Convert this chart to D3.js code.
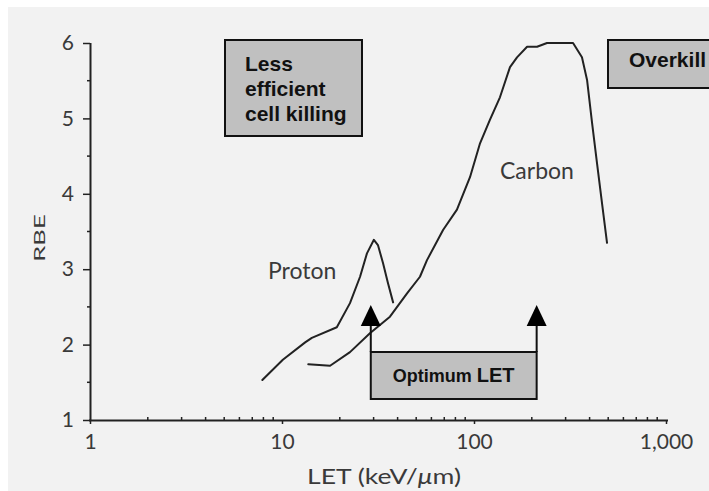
<!DOCTYPE html>
<html>
<head>
<meta charset="utf-8">
<script src="https://cdn.jsdelivr.net/npm/d3@7"></script>
<style>
  html, body { margin: 0; padding: 0; background: #fff; }
  svg { display: block; }
</style>
</head>
<body>
<svg id="chart" width="709" height="491"></svg>
<script>
'use strict'

// LET (keV/um) and RBE
const protonLET = [7.9, 10.1, 13.2, 14.3, 19.3, 22.6, 25.5, 27.7, 30.1, 31.6, 33.6, 35.6, 37.9]
const protonRBE = [1.53, 1.80, 2.03, 2.09, 2.23, 2.55, 2.90, 3.21, 3.39, 3.32, 3.08, 2.82, 2.56]

const carbonLET = [13.7, 17.8, 22.6, 28.7, 36.5, 44.8, 52.3, 56.9, 69, 81.5, 95.3, 107.5, 121, 136.5,
  154, 167.5, 189, 213, 240, 328, 365, 388, 412, 437, 464, 493]
const carbonRBE = [1.74, 1.72, 1.90, 2.15, 2.37, 2.68, 2.90, 3.12, 3.52, 3.79, 4.22, 4.67, 4.98, 5.28,
  5.68, 5.81, 5.95, 5.95, 6.0, 6.0, 5.81, 5.51, 4.94, 4.41, 3.88, 3.35]

const xTicks = [1, 10, 100, 1000]
const xTickLabels = ['1', '10', '100', '1,000']
const yTicks = [1, 2, 3, 4, 5, 6]
const optimumLET = [29, 212]

const svg = d3.select('#chart')
const ink = '#222'
const labelColor = '#3a3a3a'
const labelFont = 'Lato, "Open Sans", sans-serif'
const boxFont = '"Liberation Sans", Arial, sans-serif'

const x = d3.scaleLog().domain([1, 1000]).range([90, 666])
const y = d3.scaleLinear().domain([1, 6]).range([420, 43])

// scanned page background
svg.append('rect')
  .attr('x', 8).attr('y', 7)
  .attr('width', 709).attr('height', 491)
  .attr('fill', '#f2f2f2')

// minor ticks
const xMinor = []
for (let d = 1; d < 1000; d *= 10) {
  for (let k = 2; k <= 9; k++) xMinor.push(d * k)
}
svg.append('g').selectAll('line').data(xMinor).join('line')
  .attr('x1', d => x(d)).attr('x2', d => x(d))
  .attr('y1', y(1)).attr('y2', y(1) - 3)
  .attr('stroke', ink).attr('stroke-width', 1.5)

svg.append('g').selectAll('line').data(d3.range(1.5, 6, 1)).join('line')
  .attr('x1', x(1)).attr('x2', x(1) - 3)
  .attr('y1', d => y(d)).attr('y2', d => y(d))
  .attr('stroke', ink).attr('stroke-width', 1.5)

// axes
const xAxis = svg.append('g')
  .attr('transform', `translate(0,${y(1)})`)
  .call(d3.axisBottom(x).tickValues(xTicks).tickFormat((d, i) => xTickLabels[i]).tickSize(4).tickPadding(10))
xAxis.select('.domain').attr('d', `M${x(1) - 1},0.5H${x(1000) + 2}`)

const yAxis = svg.append('g')
  .attr('transform', `translate(${x(1)},0)`)
  .call(d3.axisLeft(y).tickValues(yTicks).tickFormat(d3.format('d')).tickSize(7).tickPadding(9))
yAxis.select('.domain').attr('d', `M0.5,${y(1)}V${y(6)}`)

svg.selectAll('.domain').attr('stroke', ink).attr('stroke-width', 2)
svg.selectAll('.tick line').attr('stroke', ink).attr('stroke-width', 1.5)
svg.selectAll('.tick text')
  .attr('fill', labelColor)
  .style('font-family', labelFont)
  .style('font-size', '21px')

// axis titles
const xTitle = svg.append('text')
  .attr('x', 307).attr('y', 484)
  .attr('textLength', 154).attr('lengthAdjust', 'spacingAndGlyphs')
  .attr('fill', labelColor)
  .style('font-family', labelFont).style('font-size', '21px')
xTitle.append('tspan').text('LET (keV/')
xTitle.append('tspan').style('font-style', 'italic').text('μ')
xTitle.append('tspan').text('m)')

svg.append('text')
  .attr('transform', 'translate(45,238) rotate(-90) scale(1.6,1)')
  .attr('text-anchor', 'middle')
  .attr('fill', labelColor)
  .style('font-family', labelFont).style('font-size', '16px')
  .text('RBE')

// curves
const line = d3.line()
  .x(d => x(d[0]))
  .y(d => y(d[1]))

const curves = [
  { name: 'Proton', pts: d3.zip(protonLET, protonRBE), lx: 268, ly: 279 },
  { name: 'Carbon', pts: d3.zip(carbonLET, carbonRBE), lx: 500, ly: 179 }
]

svg.append('g').selectAll('path').data(curves).join('path')
  .attr('d', d => line(d.pts))
  .attr('fill', 'none')
  .attr('stroke', ink)
  .attr('stroke-width', 2)
  .attr('stroke-linejoin', 'round')
  .attr('stroke-linecap', 'round')

svg.append('g').selectAll('text').data(curves).join('text')
  .attr('x', d => d.lx).attr('y', d => d.ly)
  .attr('fill', labelColor)
  .style('font-family', labelFont).style('font-size', '23px')
  .text(d => d.name)

// annotation boxes
function box(x0, y0, w, h) {
  svg.append('rect')
    .attr('x', x0).attr('y', y0)
    .attr('width', w).attr('height', h)
    .attr('fill', '#c0c0c0')
    .attr('stroke', '#111')
    .attr('stroke-width', 2)
}

box(225, 40, 137, 96)
const less = svg.append('text')
  .attr('fill', '#111')
  .style('font-family', boxFont).style('font-size', '21px').style('font-weight', 'bold')
;['Less', 'efficient', 'cell killing'].forEach((t, i) => {
  less.append('tspan').attr('x', 245).attr('y', 71 + i * 25).text(t)
})

box(608, 40, 110, 48)
svg.append('text')
  .attr('x', 629).attr('y', 67)
  .attr('fill', '#111')
  .style('font-family', boxFont).style('font-size', '21px').style('font-weight', 'bold')
  .text('Overkill')

// optimum LET range with arrows
const optTop = 352
const optBottom = 399
box(x(optimumLET[0]), optTop, x(optimumLET[1]) - x(optimumLET[0]), optBottom - optTop)

const opt = svg.append('text')
  .attr('x', (x(optimumLET[0]) + x(optimumLET[1])) / 2).attr('y', 382)
  .attr('text-anchor', 'middle')
  .attr('fill', '#111')
  .style('font-family', boxFont).style('font-weight', 'bold')
opt.append('tspan').style('font-size', '18px').text('Optimum ')
opt.append('tspan').style('font-size', '20px').text('LET')

svg.append('g').selectAll('g').data(optimumLET).join('g')
  .attr('transform', d => `translate(${x(d)},0)`)
  .each(function () {
    const g = d3.select(this)
    g.append('line')
      .attr('y1', optTop).attr('y2', 322)
      .attr('stroke', '#111').attr('stroke-width', 2)
    g.append('path')
      .attr('d', 'M-10,326L0,305L10,326Z')
      .attr('fill', '#000')
  })
</script>
</body>
</html>
